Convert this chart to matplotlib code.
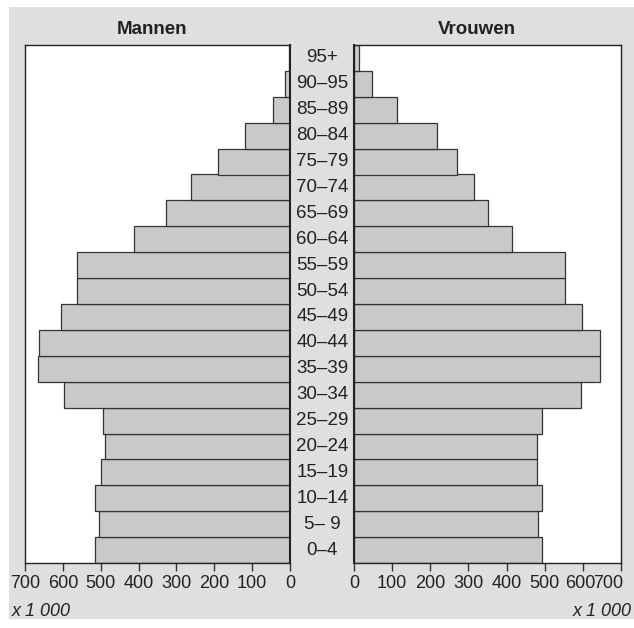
import numpy as np
import matplotlib.pyplot as plt
from matplotlib.patches import Rectangle

plt.rcParams['font.family'] = ['Liberation Sans', 'DejaVu Sans']

# Age groups from young to old
groups = ['0–4', '5– 9', '10–14', '15–19', '20–24', '25–29', '30–34', '35–39',
          '40–44', '45–49', '50–54', '55–59', '60–64', '65–69', '70–74',
          '75–79', '80–84', '85–89', '90–95', '95+']

# Population x 1000
mannen = [515, 505, 516, 498, 488, 495, 598, 666, 663, 605,
          563, 563, 413, 328, 262, 190, 118, 46, 12, 3]
vrouwen = [494, 483, 493, 480, 480, 493, 594, 646, 646, 597,
           552, 552, 413, 351, 315, 269, 218, 114, 48, 13]

ticks = [0, 100, 200, 300, 400, 500, 600, 700]

W, H = 634, 628
fig = plt.figure(figsize=(W / 100, H / 100), dpi=100)
fig.patch.set_facecolor('white')

# grey panel behind the chart
fig.patches.append(Rectangle((9 / W, 1 - 619 / H), 625 / W, 612 / H,
                             transform=fig.transFigure, facecolor='#dedfe0',
                             edgecolor='none', zorder=-10))

bottom = 1 - 563 / H
height = (563 - 45) / H
ax_m = fig.add_axes([25 / W, bottom, 265 / W, height])
ax_v = fig.add_axes([354 / W, bottom, 267 / W, height])

y = np.arange(len(groups))
bar_kw = dict(height=1.0, color='#c8c9cb', edgecolor='#333333', linewidth=0.9)

ax_m.barh(y, mannen, **bar_kw)
ax_v.barh(y, vrouwen, **bar_kw)

ax_m.set_xlim(700, 0)
ax_v.set_xlim(0, 700)

for ax in (ax_m, ax_v):
    ax.set_ylim(-0.5, len(groups) - 0.5)
    ax.set_facecolor('white')
    ax.set_yticks([])
    ax.tick_params(axis='x', direction='out', length=6, width=1,
                   color='#333333', labelsize=13, labelcolor='#222222', pad=3)
    for s in ax.spines.values():
        s.set_color('#222222')
        s.set_linewidth(1)

ax_m.set_xticks(ticks)
# last two labels on the right panel sit squeezed to the left, as in the original
ax_v.set_xticks(ticks, labels=[str(t) for t in ticks[:-2]] + ['', ''])
for t, dx in [(ticks[-2], -2), (ticks[-1], -9)]:
    ax_v.annotate(str(t), xy=(t, 0), xycoords=('data', 'axes fraction'),
                  xytext=(dx, -9), textcoords='offset points',
                  ha='center', va='top', fontsize=13, color='#222222',
                  annotation_clip=False)

ax_m.spines['right'].set_linewidth(1.5)
ax_v.spines['left'].set_linewidth(1.5)

# age group labels between the two panels
for i, g in enumerate(groups):
    ax_m.text(1.122, i, g, transform=ax_m.get_yaxis_transform(),
              ha='center', va='center', fontsize=13.5, color='#222222')

fig.text(152 / W, 1 - 30 / H, 'Mannen', ha='center', va='center',
         fontsize=13.5, fontweight='bold', color='#222222')
fig.text(477 / W, 1 - 30 / H, 'Vrouwen', ha='center', va='center',
         fontsize=13.5, fontweight='bold', color='#222222')

fig.text(12 / W, 1 - 611 / H, 'x 1 000', ha='left', va='center',
         fontsize=13, style='italic', color='#222222')
fig.text(632 / W, 1 - 611 / H, 'x 1 000', ha='right', va='center',
         fontsize=13, style='italic', color='#222222')

fig.savefig('out.png', dpi=100)
